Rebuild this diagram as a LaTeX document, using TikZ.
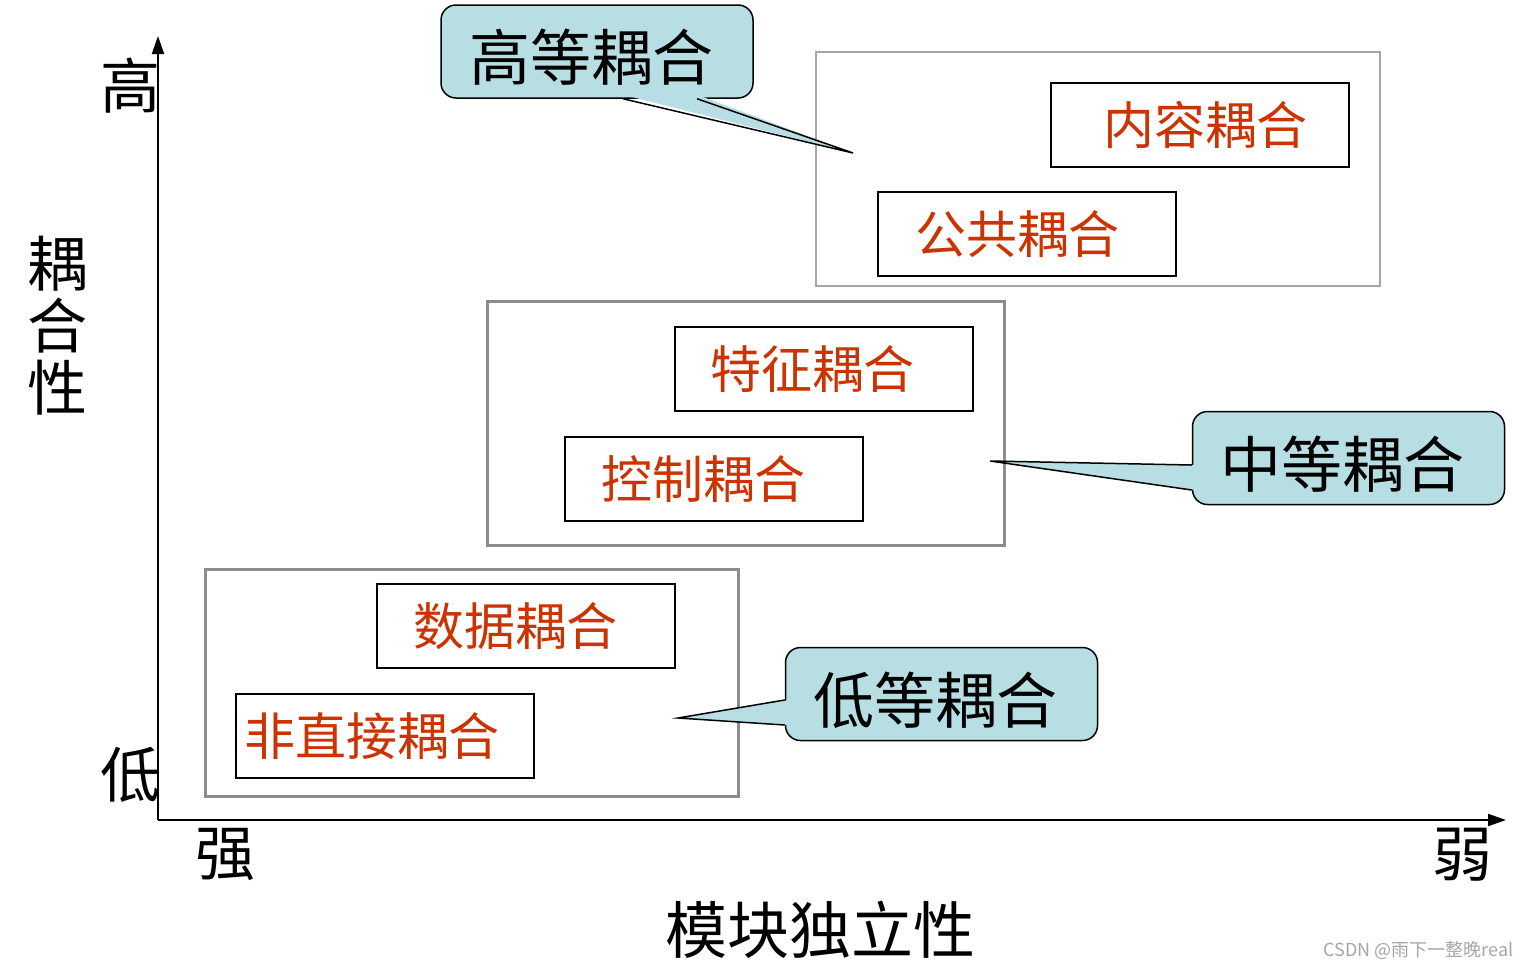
\documentclass[tikz,border=0pt]{standalone}
\usepackage{fontspec}
\setmainfont{Noto Sans CJK SC}
\usetikzlibrary{arrows.meta, positioning, calc}
\definecolor{calloutfill}{RGB}{183,222,226}
\definecolor{couplered}{RGB}{204,51,0}
\definecolor{groupgray}{RGB}{140,140,140}
\definecolor{lightgray}{RGB}{166,166,166}

\begin{document}
\begin{tikzpicture}[x=0.5pt, y=-0.5pt, >={Triangle[length=9pt,width=6pt]}]
        \useasboundingbox (0,0) rectangle (1529,969);

        \tikzstyle{axislabel}=[inner sep=0pt, font=\fontsize{30}{30}\selectfont]
        \tikzstyle{group}=[draw=groupgray, line width=1.5pt, inner sep=0pt]
        \tikzstyle{inbox}=[draw, line width=0.75pt, minimum width=149pt, minimum height=42pt, inner sep=0pt]
        \tikzstyle{redtext}=[text=couplered, inner sep=0pt, font=\fontsize{25.5}{25.5}\selectfont]
        \tikzstyle{callout}=[draw, line width=0.75pt, fill=calloutfill, rounded corners=7.5pt,
                minimum width=156pt, minimum height=46.5pt, inner sep=0pt]
        \tikzstyle{callouttext}=[inner sep=0pt, yshift=-3pt, font=\fontsize{30.5}{30.5}\selectfont]
        \tikzstyle{pointer}=[line width=0.75pt]

        % Axes
        \coordinate (origin) at (158,820);
        \coordinate (ytop) at (158,36);
        \coordinate (xend) at (1506,820);
        \draw[->, line width=1pt] (origin) -- (ytop);
        \draw[->, line width=1pt] (origin) -- (xend);

        % Axis labels
        \node[axislabel] (high) at (130,86) {高};
        \node[axislabel] (low) at (130,775) {低};
        \node[axislabel] (strong) at (225,855) {强};
        \node[axislabel] (weak) at (1462,855) {弱};
        \node[axislabel, align=center, font=\fontsize{30}{31}\selectfont] (coupling) at (57,326) {耦\\合\\性};
        \node[axislabel, font=\fontsize{31}{31}\selectfont] (independence) at (820,930) {模块独立性};

        % Groups
        \node[group, draw=lightgray, line width=0.75pt, minimum width=282pt, minimum height=117pt] (hgroup) at (1098,169) {};
        \node[group, minimum width=258.5pt, minimum height=122pt] (mgroup) at (745.5,423) {};
        \node[group, minimum width=266.5pt, minimum height=113.5pt] (lgroup) at (471.5,682.5) {};

        % Coupling kinds
        \node[inbox, label={[redtext, xshift=2.5pt]center:内容耦合}] (content) at (1200,125) {};
        \node[inbox, label={[redtext, xshift=-5pt]center:公共耦合}] (common) at (1027,234) {};
        \node[inbox, label={[redtext, xshift=-6pt]center:特征耦合}] (stamp) at (824,369) {};
        \node[inbox, label={[redtext, xshift=-5.5pt]center:控制耦合}] (control) at (714,479) {};
        \node[inbox, label={[redtext, xshift=-5.5pt]center:数据耦合}] (data) at (526,626) {};
        \node[inbox, label={[redtext, xshift=-6.5pt]center:非直接耦合}] (indirect) at (385,736) {};

        % Callouts
        \node[callout, label={[callouttext, xshift=-3pt]center:高等耦合}] (hcall) at (597,51.5) {};
        \node[callout, label={[callouttext, xshift=-3pt]center:中等耦合}] (mcall) at (1348.5,458) {};
        \node[callout, label={[callouttext, xshift=-3pt]center:低等耦合}] (lcall) at (941.5,694) {};

        \coordinate (htip) at (853,153);
        \coordinate (mtip) at (990,461);
        \coordinate (ltip) at (678,718);

        \fill[calloutfill] ($(hcall.south)+(26,-4)$) -- (htip) -- ($(hcall.south)+(100,-4)$) -- cycle;
        \draw[pointer] ($(hcall.south)+(26,0)$) -- (htip) -- ($(hcall.south)+(100,0)$);

        \fill[calloutfill] ($(mcall.west)+(4,7)$) -- (mtip) -- ($(mcall.west)+(4,32)$) -- cycle;
        \draw[pointer] ($(mcall.west)+(0,7)$) -- (mtip) -- ($(mcall.west)+(0,32)$);

        \fill[calloutfill] ($(lcall.west)+(4,6)$) -- (ltip) -- ($(lcall.west)+(4,31)$) -- cycle;
        \draw[pointer] ($(lcall.west)+(0,6)$) -- (ltip) -- ($(lcall.west)+(0,31)$);

        % Watermark
        \node[anchor=east, inner sep=0pt, text=lightgray, font=\fontsize{9}{9}\selectfont] (mark) at (1514,950) {CSDN @雨下一整晚real};

\end{tikzpicture}
\end{document}
